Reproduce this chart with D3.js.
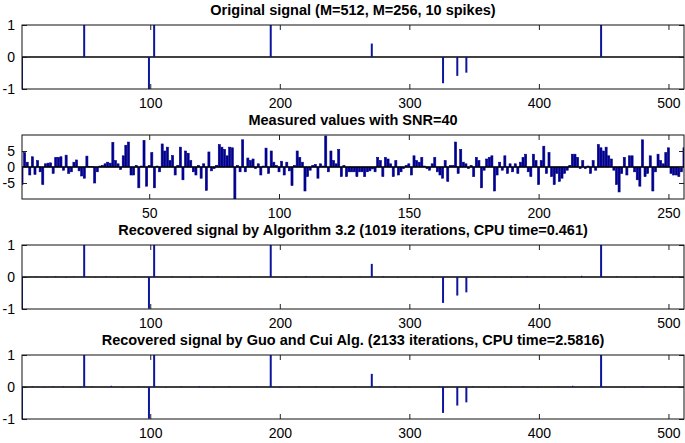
<!DOCTYPE html>
<html>
<head>
<meta charset="utf-8">
<script src="https://cdn.jsdelivr.net/npm/d3@7"></script>
<style>
  html, body { margin: 0; padding: 0; background: #fff; }
  text { font-family: "Liberation Sans", Arial, Helvetica, sans-serif; }
</style>
</head>
<body>
<svg id="chart" width="685" height="443"></svg>
<script>
// ---------------- DATA ----------------
const titles = [
  "Original signal (M=512, M=256, 10 spikes)",
  "Measured values with SNR=40",
  "Recovered signal by Algorithm 3.2 (1019 iterations, CPU time=0.461)",
  "Recovered signal by Guo and Cui Alg. (2133 iterations, CPU time=2.5816)"
];

const signalLength = 512;
const measureLength = 256;

const spikeIdx = [1, 49, 99, 103, 193, 271, 326, 337, 344, 448];
const spikeVal = [-1, 1, -1, 1, 1, 0.42, -0.82, -0.59, -0.49, 1];

const rec1Val = [-1, 1, -0.99, 1, 1, 0.41, -0.81, -0.58, -0.48, 1];
const rec1NoiseIdx = [12, 20, 27, 35, 41, 58, 66, 75, 88, 117, 131, 140, 152, 168, 177, 205, 220, 233, 247, 262, 280, 291, 305, 318, 352, 366, 379, 391, 404, 420, 433, 460, 475, 489, 503];
const rec1NoiseVal = [0.02, -0.02, 0.03, -0.03, 0.02, -0.02, 0.03, -0.02, 0.02, 0.02, -0.03, 0.02, 0.03, -0.02, 0.02, -0.02, 0.03, 0.02, -0.02, 0.02, 0.03, -0.02, 0.02, -0.03, 0.02, 0.02, -0.02, 0.03, 0.02, -0.02, 0.04, 0.02, -0.02, 0.03, -0.02];

const rec2Val = [-1, 1, -0.99, 1, 1, 0.41, -0.81, -0.58, -0.48, 1];
const rec2NoiseIdx = [9, 18, 25, 33, 46, 55, 70, 79, 91, 112, 124, 138, 149, 161, 182, 200, 215, 228, 241, 258, 277, 289, 300, 323, 349, 361, 374, 388, 399, 415, 426, 441, 466, 480, 497, 508];
const rec2NoiseVal = [0.02, -0.02, 0.02, 0.03, -0.03, 0.02, 0.04, -0.02, 0.02, -0.02, 0.02, 0.03, -0.02, 0.02, 0.02, -0.03, 0.02, 0.02, -0.02, 0.02, 0.03, 0.03, -0.02, 0.02, 0.02, -0.02, 0.02, 0.03, -0.02, 0.02, 0.04, 0.02, -0.02, 0.03, 0.02, -0.02];

const measured = [
  -5.5, 4.5, 1.5, -2.5, 3.2, -2.3, 2.0, -1.5, -5.5, 1.0,
  1.2, 1.3, -2.0, 3.0, 3.0, 3.2, -1.0, 3.7, -2.0, -1.5,
  1.5, 2.2, -1.2, -2.8, -3.5, 3.4, 0.2, 0.1, -5.0, -1.5,
  0.3, 0.5, 1.0, 1.5, 1.2, 7.7, 2.0, 1.0, -0.8, 3.5,
  6.8, 7.8, -2.5, -2.5, 0.5, -6.5, 0.3, 8.3, -6.0, 0.5,
  4.5, -6.5, 0.3, -1.5, 7.2, 5.0, 6.2, 2.0, 3.6, -2.5,
  0.5, 6.2, -4.0, 5.0, 4.3, 2.0, -1.5, -2.5, 0.5, -3.5,
  1.0, -7.3, 4.7, -1.2, -0.5, 0.5, 7.0, 6.2, 5.5, 3.5,
  6.2, 6.0, -10, 0.5, -1.5, 8.5, -1.5, 2.8, 2.0, 2.5,
  -0.5, 1.0, -2.5, 0.3, 5.9, -2.0, 5.0, 1.5, 0.5, -1.5,
  1.8, -2.5, 1.5, -1.2, -5.8, 0.5, 5.0, 3.0, 1.5, -7.5,
  -3.0, -1.0, 0.5, 0.8, -3.5, 1.0, 0.3, 9.7, -1.5, 5.0,
  2.0, 1.0, 5.5, -3.0, 0.5, -3.0, -1.5, -1.5, -1.5, -3.0,
  -1.5, -1.5, -3.0, -1.5, -1.2, -0.6, -1.5, 3.0, 2.0, -3.0,
  3.0, 2.5, 1.0, -3.0, 2.0, -2.5, -1.5, -0.5, 0.5, 1.0,
  -2.5, 3.5, 2.0, 1.5, 3.0, 0.3, -0.5, -1.0, 1.0, 3.0,
  -1.5, -2.5, -3.5, 2.0, -4.5, 0.5, 0.5, 7.8, -2.0, 5.5,
  1.5, 1.0, -0.5, 0.5, -3.0, 3.0, 2.0, -6.5, -1.0, 2.5,
  3.0, 3.5, -7.5, -2.5, 1.5, -1.0, 3.5, -2.0, 1.0, -1.5,
  1.0, -2.0, 1.5, 3.0, 4.0, -1.5, -3.0, 4.0, 2.0, -5.5,
  2.0, 6.5, -2.0, 4.5, -3.0, -5.5, -2.0, -4.5, -3.5, -2.0,
  -1.0, 0.5, 4.0, 4.0, 3.0, -0.5, 2.0, -0.5, 0.3, -2.0,
  2.0, -1.0, 7.0, 6.0, 5.0, 6.2, 3.5, 2.5, -1.0, -5.5,
  -7.8, -2.0, 3.0, -2.5, 3.5, 3.5, -1.5, -4.0, -6.0, 8.5,
  -3.0, -2.0, 3.5, -7.5, -1.5, 4.0, 2.0, 1.0, 4.5, 6.0,
  -2.0, -2.5, -2.5, -3.0, -1.5, 6.0
];

const spikeXTicks = [100, 200, 300, 400, 500];
const spikeYTicks = [-1, 0, 1];
const measXTicks = [50, 100, 150, 200, 250];
const measYTicks = [-5, 0, 5];

// ---------------- LAYOUT ----------------
const svg = d3.select("#chart");
const left = 22, right = 684;
const panelTops = [25, 135, 245, 355];
const panelH = 64;
const stemColor = "#0c169c";
const barColor = "#00008c";
const fmt = d => String(d).replace("\u2212", "-");

function panel(i, xDomain, yDomain, xTicks, yTicks) {
  const top = panelTops[i];
  const g = svg.append("g");
  const x = d3.scaleLinear().domain(xDomain).range([left, right]);
  const y = d3.scaleLinear().domain(yDomain).range([top + panelH, top]);

  g.append("clipPath").attr("id", "clip" + i)
    .append("rect").attr("x", left).attr("y", top).attr("width", right - left).attr("height", panelH);

  const marks = g.append("g").attr("clip-path", `url(#clip${i})`);

  const xb = g.append("g").attr("transform", `translate(0,${top + panelH})`)
    .call(d3.axisBottom(x).tickValues(xTicks).tickSize(-5).tickPadding(9).tickFormat(fmt));
  const xt = g.append("g").attr("transform", `translate(0,${top})`)
    .call(d3.axisTop(x).tickValues(xTicks).tickSize(-5).tickFormat(""));
  const yl = g.append("g").attr("transform", `translate(${left},0)`)
    .call(d3.axisLeft(y).tickValues(yTicks).tickSize(-5).tickPadding(7).tickFormat(fmt));
  const yr = g.append("g").attr("transform", `translate(${right},0)`)
    .call(d3.axisRight(y).tickValues(yTicks).tickSize(-5).tickFormat(""));
  [xb, xt, yl, yr].forEach(a => {
    a.select(".domain").remove();
    a.selectAll("line").attr("stroke", "#222").attr("stroke-width", 1);
    a.selectAll("text").attr("font-size", 14).attr("fill", "#000")
      .style("font-family", '"Liberation Sans", Arial, sans-serif');
  });

  g.append("rect").attr("x", left).attr("y", top).attr("width", right - left).attr("height", panelH)
    .attr("fill", "none").attr("stroke", "#111").attr("stroke-width", 1);

  g.append("text").attr("x", (left + right) / 2).attr("y", top - 10)
    .attr("text-anchor", "middle").attr("font-size", 14.5).attr("font-weight", "bold")
    .attr("fill", "#000").text(titles[i]);

  return { g, x, y, marks };
}

function stemPanel(i, idx, vals, nIdx, nVals) {
  const p = panel(i, [1, signalLength], [-1, 1], spikeXTicks, spikeYTicks);
  const pts = idx.map((d, k) => ({ i: d, v: vals[k] }));
  const noise = (nIdx || []).map((d, k) => ({ i: d, v: nVals[k] }));
  p.marks.append("line").attr("x1", left).attr("x2", right)
    .attr("y1", p.y(0)).attr("y2", p.y(0)).attr("stroke", "#000").attr("stroke-width", 1.4);
  p.marks.selectAll(".noise").data(noise).join("line")
    .attr("x1", d => p.x(d.i)).attr("x2", d => p.x(d.i))
    .attr("y1", p.y(0)).attr("y2", d => p.y(d.v))
    .attr("stroke", stemColor).attr("stroke-width", 1.2);
  p.marks.selectAll(".stem").data(pts).join("line")
    .attr("x1", d => p.x(d.i)).attr("x2", d => p.x(d.i))
    .attr("y1", p.y(0)).attr("y2", d => p.y(d.v))
    .attr("stroke", stemColor).attr("stroke-width", 2);
}

stemPanel(0, spikeIdx, spikeVal);

(function () {
  const p = panel(1, [1, measureLength], [-10, 10], measXTicks, measYTicks);
  const bw = (p.x(2) - p.x(1)) * 0.8;
  p.marks.selectAll("rect.bar").data(measured).join("rect")
    .attr("x", (d, k) => p.x(k + 1) - bw / 2)
    .attr("width", bw)
    .attr("y", d => p.y(Math.max(0, d)))
    .attr("height", d => Math.abs(p.y(d) - p.y(0)))
    .attr("fill", barColor)
    .attr("stroke", barColor).attr("stroke-width", 0.6);
  p.marks.append("line").attr("x1", left).attr("x2", right)
    .attr("y1", p.y(0)).attr("y2", p.y(0)).attr("stroke", "#000").attr("stroke-width", 1.4);
})();

stemPanel(2, spikeIdx, rec1Val, rec1NoiseIdx, rec1NoiseVal);
stemPanel(3, spikeIdx, rec2Val, rec2NoiseIdx, rec2NoiseVal);
</script>
</body>
</html>
